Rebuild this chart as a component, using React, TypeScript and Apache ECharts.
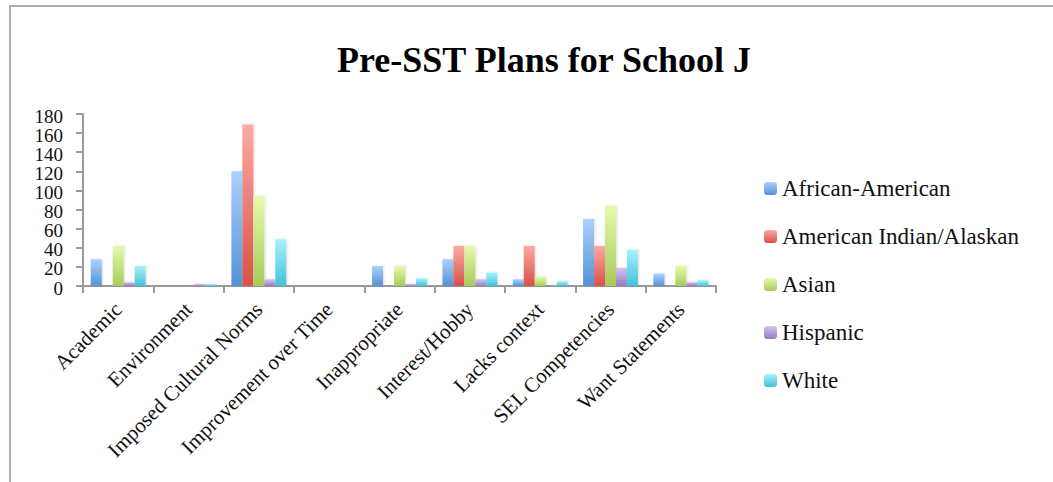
import React, { useEffect, useRef } from "react";
import * as echarts from "echarts";

const categories = [
  "Academic",
  "Environment",
  "Imposed Cultural Norms",
  "Improvement over Time",
  "Inappropriate",
  "Interest/Hobby",
  "Lacks context",
  "SEL Competencies",
  "Want Statements",
];
const seriesNames = ["African-American", "American Indian/Alaskan", "Asian", "Hispanic", "White"];
const africanAmerican = [28, 0, 120, 0, 21, 28, 7, 70, 13];
const americanIndian = [0, 0, 169, 0, 0, 42, 42, 42, 0];
const asian = [42, 0, 94, 0, 21, 42, 10, 84, 21];
const hispanic = [4, 2, 7, 0, 2, 7, 0, 19, 4];
const white = [21, 2, 49, 0, 8, 14, 5, 38, 6];
const yTicks = [0, 20, 40, 60, 80, 100, 120, 140, 160, 180];

const gradients: [string, string][] = [
  ["#abd0fd", "#5592d6"],
  ["#fbaaa3", "#d9514a"],
  ["#e6fbab", "#a6cb5a"],
  ["#d6c4ee", "#977ac3"],
  ["#a8f1fd", "#42c2da"],
];

const FONT = "Liberation Serif";

export default function App() {
  const ref = useRef<HTMLDivElement>(null);
  useEffect(() => {
    if (!ref.current) return;
    const chart = echarts.init(ref.current, undefined, { renderer: "svg" });
    const allData = [africanAmerican, americanIndian, asian, hispanic, white];
    const border = {
      id: "border",
      type: "rect",
      shape: { x: 10, y: 6, width: 1100, height: 520 },
      style: { fill: "none", stroke: "#ababab", lineWidth: 2 },
      silent: true,
    };
    chart.setOption({
      animation: false,
      backgroundColor: "#ffffff",
      title: {
        text: "Pre-SST Plans for School J",
        left: 539,
        top: 37,
        textAlign: "center",
        textStyle: { fontFamily: FONT, fontSize: 36, fontWeight: "bold", color: "#000" },
      },
      graphic: [border],
      legend: {
        orient: "vertical",
        left: 764,
        top: 177,
        padding: 0,
        itemWidth: 13,
        itemHeight: 13,
        itemGap: 25,
        textStyle: { fontFamily: FONT, fontSize: 23, color: "#111" },
        data: seriesNames,
      },
      grid: { left: 83, right: 337, top: 114, bottom: 196, containLabel: false },
      xAxis: {
        type: "category",
        data: categories,
        axisLine: { lineStyle: { color: "#9a9a9a", width: 2 } },
        axisTick: { show: true, length: 7, alignWithLabel: false, lineStyle: { color: "#9a9a9a", width: 2 } },
        axisLabel: {
          rotate: 45,
          interval: 0,
          margin: 20,
          fontFamily: FONT,
          fontSize: 21,
          color: "#111",
        },
      },
      yAxis: {
        type: "value",
        min: 0,
        max: yTicks[yTicks.length - 1],
        interval: 20,
        axisLine: { show: true, lineStyle: { color: "#9a9a9a", width: 2 } },
        axisTick: { show: true, length: 7, lineStyle: { color: "#9a9a9a", width: 2 } },
        splitLine: {
          lineStyle: {
            color: "#9a9a9a",
            width: 2,
            shadowColor: "rgba(0,0,0,0.12)",
            shadowBlur: 2,
            shadowOffsetY: 1,
          },
        },
        axisLabel: { show: false },
      },
      series: seriesNames.map((name, i) => ({
        name,
        type: "bar",
        data: allData[i],
        barGap: "0%",
        barCategoryGap: "22%",
        itemStyle: {
          color: new echarts.graphic.LinearGradient(0, 0, 0, 1, [
            { offset: 0, color: gradients[i][0] },
            { offset: 1, color: gradients[i][1] },
          ]),
          shadowColor: "rgba(0,0,0,0.15)",
          shadowBlur: 2,
          shadowOffsetX: 1,
          shadowOffsetY: 0,
        },
      })),
    });
    const labels = yTicks.map((v, k) => {
      const py = chart.convertToPixel({ yAxisIndex: 0 }, v) as number;
      return {
        id: "ylab" + k,
        type: "text",
        x: 63,
        y: py + 2,
        silent: true,
        style: {
          text: String(v),
          font: `19px ${FONT}`,
          fill: "#111",
          align: "right",
          verticalAlign: "middle",
        },
      };
    });
    chart.setOption({ graphic: [border, ...labels] });
    return () => chart.dispose();
  }, []);
  return (
    <div
      ref={ref}
      style={{ position: "fixed", left: 0, top: 0, width: 1053, height: 482, background: "#fff" }}
    />
  );
}
